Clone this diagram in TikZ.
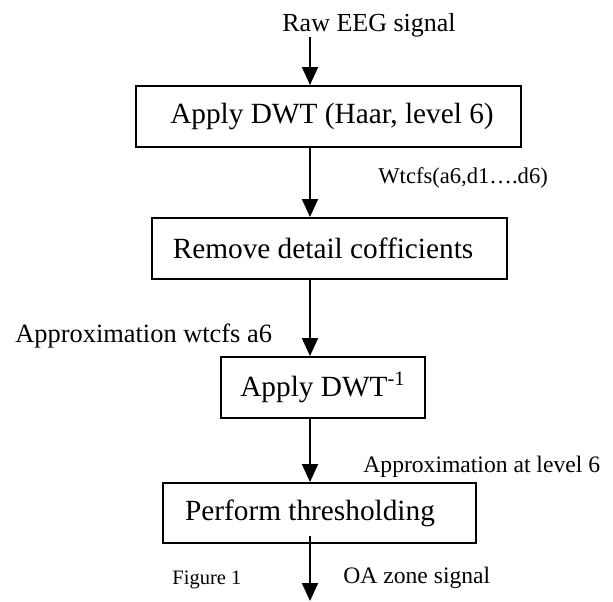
\documentclass[tikz,border=0pt]{standalone}
\usepackage{fontspec}
\setmainfont{Liberation Serif}
\usetikzlibrary{arrows.meta}

\begin{document}
\begin{tikzpicture}[x=0.5pt, y=-0.5pt,
  stage/.style={draw, line width=1pt, inner sep=0pt,
    font=\fontsize{14.65}{17}\selectfont},
  note/.style={inner sep=0pt, anchor=base west,
    font=\fontsize{11.8}{14}\selectfont},
  flow/.style={line width=1pt, -{Triangle[width=8pt,length=9pt]}}]
\useasboundingbox (0,0) rectangle (613,601);

% all arrows run down the same vertical line
\coordinate (axis) at (310,0);
\coordinate (out) at (310,601);

% the processing stages (the \hspace moves the text off the box centre)
\node[stage, minimum width=192.5pt, minimum height=30.5pt] (dwt) at (328.5,116.5)
  {\hspace*{3.5pt}Apply DWT (Haar, level 6)};
\node[stage, minimum width=177.5pt, minimum height=30.5pt] (detail) at (329.5,248.5)
  {\hspace*{-6.5pt}Remove detail cofficients};
\node[stage, minimum width=102pt, minimum height=30.5pt] (idwt) at (323,387.5)
  {Apply DWT\textsuperscript{-1}};
\node[stage, minimum width=156.5pt, minimum height=30pt] (thresh) at (319.5,513)
  {\hspace*{-9.5pt}Perform thresholding};

% signal names beside the arrows
\node[note, font=\fontsize{13}{15}\selectfont] (raw) at (282,31) {Raw EEG signal};
\node[note, font=\fontsize{11.3}{13}\selectfont] (coefs) at (378,183) {Wtcfs(a6,d1….d6)};
\node[note, font=\fontsize{13.2}{15}\selectfont] (approx) at (15,342) {Approximation wtcfs a6};
\node[note] (level) at (363,472) {Approximation at level 6};
\node[note] (zone) at (343,583) {OA zone signal};
\node[note, font=\fontsize{10.25}{12}\selectfont] (caption) at (172,584) {Figure 1};

% connectors
\draw[flow] (raw.south -| axis) -- (dwt.north -| axis);
\draw[flow] (dwt.south -| axis) -- (detail.north -| axis);
\draw[flow] (detail.south -| axis) -- (idwt.north -| axis);
\draw[flow] (idwt.south -| axis) -- (thresh.north -| axis);
\draw[flow] ([yshift=4pt]thresh.south -| axis) -- (out);
\end{tikzpicture}
\end{document}
